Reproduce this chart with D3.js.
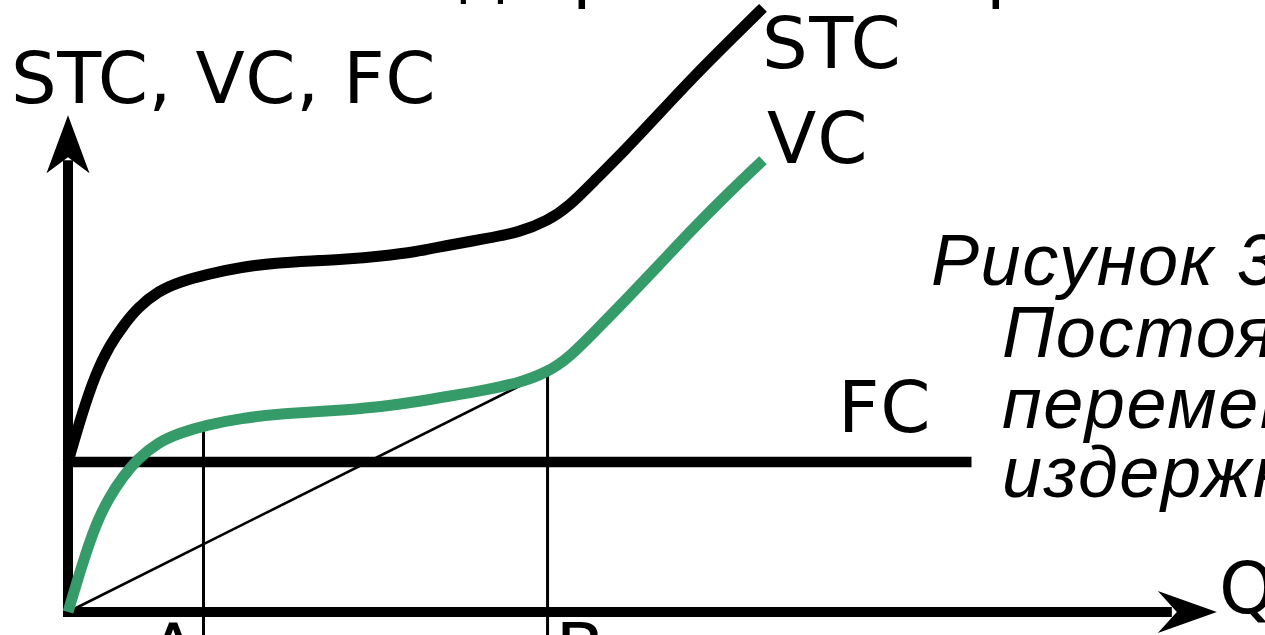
<!DOCTYPE html>
<html><head><meta charset="utf-8">
<script src="https://cdn.jsdelivr.net/npm/d3@7"></script>
<style>html,body{margin:0;padding:0;background:#fff;overflow:hidden}svg{display:block}</style>
</head><body><svg id="c" width="1265" height="635"></svg>
<script>
// ---- data ----
const quantities = [0, 2, 4, 6, 8, 10, 13, 16, 20, 25, 30, 35, 40, 45, 50, 55, 60, 65, 69, 72, 76, 80, 85, 90, 95, 100];
const vcValues   = [0, 7.8, 14.7, 19.3, 22.7, 25.5, 28.3, 29.8, 31.2, 32.3, 33, 33.3, 33.7, 34.2, 35, 36, 37, 38.2, 40, 42.3, 47, 51.7, 57.8, 64, 69.8, 75.3];
const stcValues  = [25, 33, 39.8, 44.5, 47.8, 50.7, 53.5, 55, 56.3, 57.5, 58.2, 58.5, 58.8, 59.3, 60, 61.2, 62.2, 63.3, 65.2, 67.5, 72.2, 76.8, 83, 89.2, 95, 100.7];
const fcValue = 25;
const fcExtent = [0, 130];
const tickQ = [19.5, 69];
const tickLabels = ["A", "B"];
const seriesLabels = ["STC", "VC", "FC"];
const yAxisTitle = "STC, VC, FC";
const xAxisTitle = "Q";
const captionLines = ["Рисунок 3.", "Постоянные и", "переменные", "издержки"];
const titleFragments = ["д", "р", "р"];

// ---- scales ----
const x = d3.scaleLinear().domain([0, 100]).range([68, 763]);
const y = d3.scaleLinear().domain([0, 100]).range([612, 12]);
const xAxisEnd = 165.3, yAxisEnd = 82.8;

const svg = d3.select("#c");
const green = "#359b68";
const lblFont = "'DejaVu Sans', sans-serif";

const vcData = quantities.map((q, i) => [q, vcValues[i]]);
const stcData = quantities.map((q, i) => [q, stcValues[i]]);
const line = d3.line().x(d => x(d[0])).y(d => y(d[1])).curve(d3.curveBasis);

const vcAt = q => {
  const i = d3.bisectLeft(quantities, q);
  if (quantities[i] === q) return vcValues[i];
  const t = (q - quantities[i-1]) / (quantities[i] - quantities[i-1]);
  return vcValues[i-1] + t * (vcValues[i] - vcValues[i-1]);
};

// thin construction lines
tickQ.forEach(q => {
  svg.append("line")
    .attr("x1", x(q)).attr("x2", x(q))
    .attr("y1", y(vcAt(q))).attr("y2", y(-5))
    .attr("stroke", "#000").attr("stroke-width", 3);
});
svg.append("line")
  .attr("x1", x(0)).attr("y1", y(0))
  .attr("x2", x(tickQ[1])).attr("y2", y(vcAt(tickQ[1])))
  .attr("stroke", "#000").attr("stroke-width", 2.6);

// FC
svg.append("line")
  .attr("x1", x(fcExtent[0]) - 5).attr("x2", x(fcExtent[1]))
  .attr("y1", y(fcValue)).attr("y2", y(fcValue))
  .attr("stroke", "#000").attr("stroke-width", 10.5);

// STC
svg.append("path").datum(stcData).attr("d", line)
  .attr("fill", "none").attr("stroke", "#000").attr("stroke-width", 11);

// axes
const ox = x(0), oy = y(0);
const yTip = y(yAxisEnd), xTip = x(xAxisEnd);
svg.append("line").attr("x1", ox).attr("x2", ox).attr("y1", oy + 5).attr("y2", yTip + 45)
  .attr("stroke", "#000").attr("stroke-width", 10);
svg.append("line").attr("x1", ox - 5).attr("x2", xTip - 45).attr("y1", oy).attr("y2", oy)
  .attr("stroke", "#000").attr("stroke-width", 10);
svg.append("path")
  .attr("d", `M${ox},${yTip} L${ox+21.5},${yTip+58} L${ox},${yTip+42} L${ox-21.5},${yTip+58} Z`)
  .attr("fill", "#000");
svg.append("path")
  .attr("d", `M${xTip},${oy} L${xTip-59},${oy-21} L${xTip-40},${oy} L${xTip-59},${oy+21} Z`)
  .attr("fill", "#000");

// VC
svg.append("path").datum(vcData).attr("d", line)
  .attr("fill", "none").attr("stroke", green).attr("stroke-width", 11);

// labels
const txt = (s, tx, ty, opts = {}) => svg.append("text")
  .attr("x", tx).attr("y", ty)
  .attr("font-family", opts.family || lblFont)
  .attr("font-size", opts.size || 72)
  .attr("font-style", opts.style || "normal")
  .attr("letter-spacing", opts.ls || 0.8)
  .attr("text-anchor", opts.anchor || "start")
  .attr("fill", "#000").text(s);

txt(seriesLabels[0], x(100) - 1, 68, {ls: 1.5});
txt(seriesLabels[1], x(100) + 4, 163, {ls: 1});
txt(seriesLabels[2], 838, 432, {ls: 0});
txt(yAxisTitle, 11, 103, {ls: 0.6});
txt(xAxisTitle, 1219, 613);
txt(tickLabels[0], x(tickQ[0]) - 30, 674, {anchor: "middle"});
txt(tickLabels[1], x(tickQ[1]) + 8, 674);

// partially visible title above
txt(titleFragments[0], 457, -6);
txt(titleFragments[1], 572, -6);
txt(titleFragments[2], 986, -6);

// caption
const capFont = "'Liberation Sans', Arial, sans-serif";
const capX = [931, 1002, 1002, 1002];
const capY = [285, 357, 428, 497];
captionLines.forEach((s, i) => txt(s, capX[i], capY[i], {family: capFont, style: "italic", size: 72, ls: 1.6}));
</script>
</body></html>
